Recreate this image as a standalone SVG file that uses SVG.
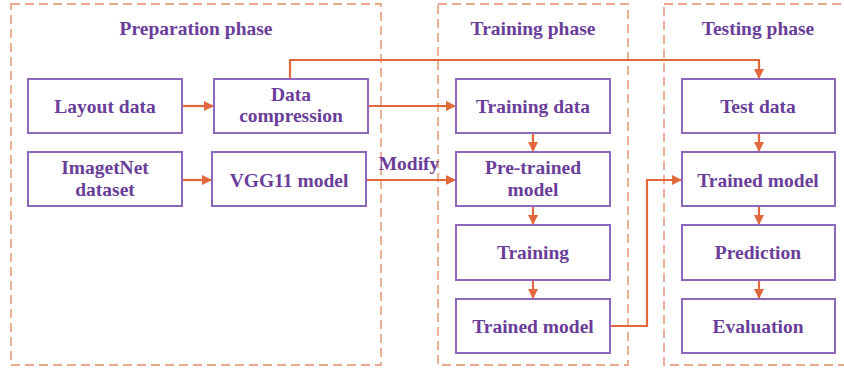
<svg xmlns="http://www.w3.org/2000/svg" width="844" height="369" viewBox="0 0 844 369">
<defs>
<marker id="ah" markerWidth="10" markerHeight="10" refX="9" refY="5" orient="auto" markerUnits="userSpaceOnUse">
<path d="M0,0 L10,5 L0,10 Z" fill="#e0683a"/>
</marker>
</defs>
<style>
.phase{fill:none;stroke:#eca88c;stroke-width:1.8;stroke-dasharray:9,5}
.box{fill:#fff;stroke:#8e68bd;stroke-width:2}
text{font-family:"Liberation Serif","Times New Roman",serif;font-weight:bold;font-size:19.5px;fill:#6a3d9a;text-anchor:middle}
.c{fill:none;stroke:#e0683a;stroke-width:2.2}
</style>
<rect width="844" height="369" fill="#fff"/>
<g id="phases">
<rect class="phase" x="11" y="4" width="370" height="361"/>
<rect class="phase" x="438" y="4" width="190" height="361"/>
<rect class="phase" x="664" y="4" width="184" height="361"/>
<text x="196" y="35">Preparation phase</text>
<text x="533" y="35">Training phase</text>
<text x="758" y="35">Testing phase</text>
</g>
<g id="connectors">
<path class="c" d="M182,106 H213" marker-end="url(#ah)"/>
<path class="c" d="M182,180 H211" marker-end="url(#ah)"/>
<path class="c" d="M290,79 V60 H759 V78" marker-end="url(#ah)"/>
<path class="c" d="M368,106 H455" marker-end="url(#ah)"/>
<path class="c" d="M366,180 H455" marker-end="url(#ah)"/>
<text x="409" y="170">Modify</text>
<path class="c" d="M533,133 V151" marker-end="url(#ah)"/>
<path class="c" d="M533,206 V224" marker-end="url(#ah)"/>
<path class="c" d="M533,280 V298" marker-end="url(#ah)"/>
<path class="c" d="M610,326 H647 V180 H681" marker-end="url(#ah)"/>
<path class="c" d="M759,133 V151" marker-end="url(#ah)"/>
<path class="c" d="M759,206 V224" marker-end="url(#ah)"/>
<path class="c" d="M759,280 V298" marker-end="url(#ah)"/>
</g>
<g id="layout"><rect class="box" x="28" y="79" width="154" height="54"/><text x="105" y="113">Layout data</text></g>
<g id="compression"><rect class="box" x="214" y="79" width="154" height="54"/><text x="291" y="101">Data</text><text x="291" y="122">compression</text></g>
<g id="imagenet"><rect class="box" x="28" y="152" width="154" height="54"/><text x="105" y="174">ImagetNet</text><text x="105" y="196">dataset</text></g>
<g id="vgg"><rect class="box" x="212" y="152" width="154" height="54"/><text x="289" y="187">VGG11 model</text></g>
<g id="trainingdata"><rect class="box" x="456" y="79" width="154" height="54"/><text x="533" y="113">Training data</text></g>
<g id="pretrained"><rect class="box" x="456" y="152" width="154" height="54"/><text x="533" y="174">Pre-trained</text><text x="533" y="196">model</text></g>
<g id="training"><rect class="box" x="456" y="225" width="154" height="55"/><text x="533" y="259">Training</text></g>
<g id="trainedmodel1"><rect class="box" x="456" y="299" width="154" height="54"/><text x="533" y="333">Trained model</text></g>
<g id="testdata"><rect class="box" x="682" y="79" width="153" height="54"/><text x="758" y="113">Test data</text></g>
<g id="trainedmodel2"><rect class="box" x="682" y="152" width="153" height="54"/><text x="758" y="187">Trained model</text></g>
<g id="prediction"><rect class="box" x="682" y="225" width="153" height="55"/><text x="758" y="259">Prediction</text></g>
<g id="evaluation"><rect class="box" x="682" y="299" width="153" height="54"/><text x="758" y="333">Evaluation</text></g>
</svg>
